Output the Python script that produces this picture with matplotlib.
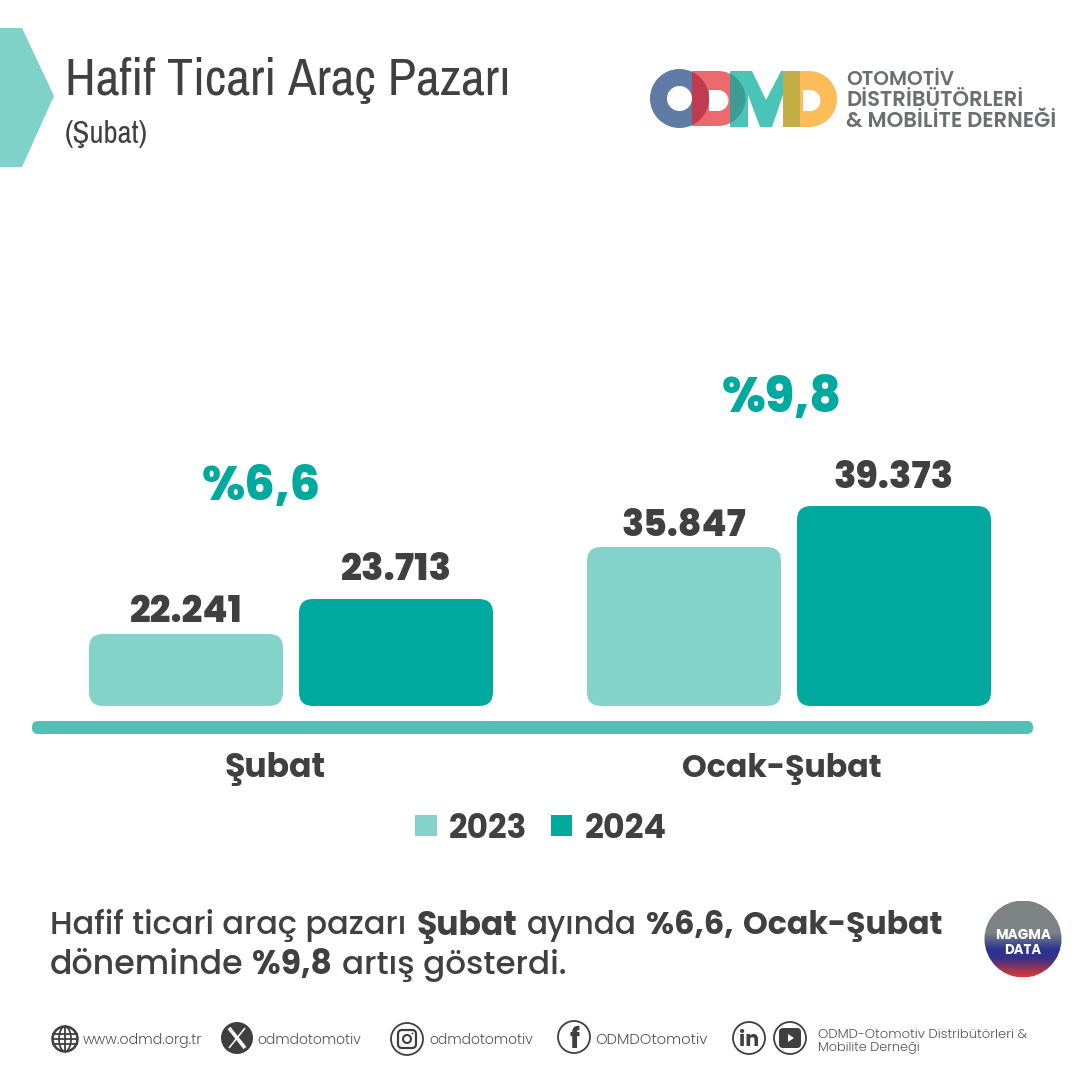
import numpy as np
import matplotlib
matplotlib.use("Agg")
import matplotlib.pyplot as plt
from matplotlib.patches import Circle, FancyBboxPatch, Polygon, Rectangle, Wedge
from matplotlib.colors import LinearSegmentedColormap

categories = ["Şubat", "Ocak-Şubat"]
years = ["2023", "2024"]
# the labels say one thing, the bars in the picture are not to scale,
# so drawn heights are read off separately
labels_2023 = ["22.241", "35.847"]
labels_2024 = ["23.713", "39.373"]
heights_2023 = [72, 159]
heights_2024 = [107, 200]
changes = ["%6,6", "%9,8"]

LIGHT = "#84d3cb"
DARK = "#00a99d"
TEXT = "#404040"
GREY = "#6d6e71"
SANS = ["Poppins", "DejaVu Sans"]
NARROW = ["Archivo Narrow", "Roboto Condensed", "DejaVu Sans"]

fig = plt.figure(figsize=(10.8, 10.8), dpi=100, facecolor="white")

# overlay in pixel coordinates for header, logo and footer
bg = fig.add_axes([0, 0, 1, 1])
bg.set_xlim(0, 1080)
bg.set_ylim(1080, 0)
bg.axis("off")


def fit(t, width):
    w = t.get_window_extent(fig.canvas.get_renderer()).width
    t.set_fontsize(t.get_fontsize() * width / w)
    return t


def put(x, y, s, width=None, size=12, ha="left", color=TEXT, family=SANS, weight="normal"):
    t = bg.text(x, y, s, ha=ha, va="center_baseline", fontsize=size, color=color, family=family, weight=weight)
    if width is not None:
        fit(t, width)
    return t


# header
bg.add_patch(Polygon([(0, 28), (22, 28), (54, 96), (22, 167), (0, 167)], fc="#7fd2ca", ec="none"))
put(65, 76, "Hafif Ticari Araç Pazarı", width=446, size=40, family=NARROW)
put(65, 132, "(Şubat)", width=83, size=20, family=NARROW)

# logo
bg.add_patch(Wedge((679.5, 98.5), 29.5, 0, 360, width=17, fc="#5f7ba6", ec="none"))
bg.add_patch(Rectangle((692, 71), 26, 55, fc="#ec6a6e", ec="none"))
bg.add_patch(Wedge((718, 98.5), 27.5, -90, 90, fc="#ec6a6e", ec="none"))
over = Wedge((679.5, 98.5), 29.5, 0, 360, width=17, fc="#c23a50", ec="none")
bg.add_patch(over)
over.set_clip_path(Rectangle((692, 60), 30, 80, transform=bg.transData))
bg.add_patch(Rectangle((709, 90), 9, 21, fc="white", ec="none"))
bg.add_patch(Wedge((718, 100.5), 10.5, -90, 90, fc="white", ec="none"))
bg.add_patch(Polygon([(730, 71), (752, 71), (766, 100), (781, 71), (800, 71), (800, 127), (783, 127), (783, 95),
                      (772, 127), (760, 127), (748, 95), (748, 127), (730, 127)], fc="#4bc4b8", ec="none"))
over2 = Wedge((718, 98.5), 27.5, -90, 90, fc="#3d9d95", ec="none")
bg.add_patch(over2)
over2.set_clip_path(Rectangle((730, 60), 30, 80, transform=bg.transData))
bg.add_patch(Rectangle((783, 71), 17, 56, fc="#c4ae45", ec="none"))
bg.add_patch(Rectangle((800, 71), 9, 56, fc="#fbbd5a", ec="none"))
bg.add_patch(Wedge((809, 99), 28, -90, 90, fc="#fbbd5a", ec="none"))
bg.add_patch(Rectangle((803, 90), 8, 21, fc="white", ec="none"))
bg.add_patch(Wedge((810, 100.5), 10.5, -90, 90, fc="white", ec="none"))
put(846, 78, "OTOMOTİV", width=108, size=13, color=GREY, weight=600)
put(846, 98, "DİSTRİBÜTÖRLERİ", width=177, size=13, color=GREY, weight=600)
put(846, 119, "& MOBİLİTE DERNEĞİ", width=210, size=13, color=GREY, weight=600)

# chart, pixel box x 32..1033, baseline y 706, 400 px tall
ax = fig.add_axes([32 / 1080, 1 - 706 / 1080, 1001 / 1080, 400 / 1080])
ax.patch.set_alpha(0)
GROUP = 498
x = np.arange(len(categories))
ax.set_xlim((32 - 291) / GROUP, (1033 - 291) / GROUP)
ax.set_ylim(0, 400)
for s in ax.spines.values():
    s.set_visible(False)
ax.set_yticks([])
bar_w = 194 / GROUP
off = 105 / GROUP
bars_a = ax.bar(x - off, heights_2023, bar_w, color=LIGHT)
bars_b = ax.bar(x + off, heights_2024, bar_w, color=DARK)
ax.set_xticks(x + np.array([-16, -7]) / GROUP)
ax.set_xticklabels(categories, family=SANS, fontsize=21, fontweight="bold", color=TEXT)
ax.tick_params(axis="x", length=0, pad=45.5)
for lab, w in zip(ax.get_xticklabels(), [101, 200]):
    lab.set_va("center")
    fit(lab, w)


def round_bars_px(bars, color):
    # rounded corners need equal units, so go through display pixels
    for b in bars:
        b.set_visible(False)
        (x0, y0), (x1, y1) = ax.transData.transform([(b.get_x(), 0), (b.get_x() + b.get_width(), b.get_height())])
        r = 14
        ax.add_patch(FancyBboxPatch((x0 + r, y0 + r), x1 - x0 - 2 * r, y1 - y0 - 2 * r,
                                    boxstyle="round,pad=%d,rounding_size=%d" % (r, r), fc=color, ec="none", transform=None))


round_bars_px(bars_a, LIGHT)
round_bars_px(bars_b, DARK)

label_w_a = [113, 125]
label_w_b = [111, 120]
change_w = [119, 120]
change_dx = [-30, -7]
change_dy = [110, 106]
for i in range(len(categories)):
    t = ax.annotate(labels_2023[i], (x[i] - off, heights_2023[i]), xytext=(0, 20 * 0.72), textcoords="offset points",
                    ha="center", va="center", family=SANS, fontsize=24, fontweight=800, color=TEXT)
    fit(t, label_w_a[i])
    t = ax.annotate(labels_2024[i], (x[i] + off, heights_2024[i]), xytext=(0, 27 * 0.72), textcoords="offset points",
                    ha="center", va="center", family=SANS, fontsize=24, fontweight=800, color=TEXT)
    fit(t, label_w_b[i])
    top = max(heights_2023[i], heights_2024[i])
    t = ax.annotate(changes[i], (x[i], top), xytext=(change_dx[i] * 0.72, change_dy[i] * 0.72), textcoords="offset points",
                    ha="center", va="center", family=SANS, fontsize=32, fontweight=800, color=DARK)
    fit(t, change_w[i])

# thick axis line under the bars
bg.add_patch(FancyBboxPatch((38, 727), 989, 1, boxstyle="round,pad=6,rounding_size=6", fc="#52c0b5", ec="none"))

# legend
bg.add_patch(Rectangle((415, 815), 22, 21, fc=LIGHT, ec="none"))
bg.add_patch(Rectangle((551, 815), 21, 21, fc=DARK, ec="none"))
put(449, 825, years[0], width=78, size=22, weight="bold")
put(585, 825, years[1], width=82, size=22, weight="bold")

# text below the chart
for run_x, run_y, run_w, run, w in [
    (50, 922, 357, "Hafif ticari araç pazarı", 500),
    (417, 922, 101, "Şubat", "bold"),
    (527, 922, 110, "ayında", 500),
    (646, 922, 88, "%6,6,", "bold"),
    (743, 922, 200, "Ocak-Şubat", "bold"),
    (50, 961, 193, "döneminde", 500),
    (252, 961, 80, "%9,8", "bold"),
    (342, 961, 224, "artış gösterdi.", 500),
]:
    put(run_x, run_y, run, width=run_w, size=22, weight=w)

# magma badge
grad = LinearSegmentedColormap.from_list("magma_badge", [(0, "#7e8283"), (0.42, "#7e8283"), (0.64, "#2b3390"),
                                                         (0.76, "#3a3088"), (1, "#dc3a32")])
im = bg.imshow(np.linspace(0, 1, 200).reshape(-1, 1), cmap=grad, extent=(984, 1062, 977, 901), aspect="auto", zorder=2)
im.set_clip_path(Circle((1023, 939), 38.5, transform=bg.transData))
bg.set_xlim(0, 1080)
bg.set_ylim(1080, 0)
t = put(1023, 934, "MAGMA", width=56, size=10, ha="center", color="white", weight="bold")
t.set_zorder(3)
t = put(1023, 949, "DATA", width=37, size=10, ha="center", color="white", weight="bold")
t.set_zorder(3)

# footer icons
ICON = "#3f3f3f"
bg.add_patch(Circle((65, 1039), 12.5, fc="none", ec=ICON, lw=1.8))
for dy in (-5, 0, 5):
    bg.plot([53, 77], [1039 + dy, 1039 + dy], color=ICON, lw=1.3)
bg.plot([65, 65], [1027, 1051], color=ICON, lw=1.3)
th = np.linspace(0, 2 * np.pi, 60)
bg.plot(65 + 6 * np.cos(th), 1039 + 12.5 * np.sin(th), color=ICON, lw=1.3)

bg.add_patch(Circle((237, 1038), 16, fc=ICON, ec="none"))
bg.plot([229, 245], [1028, 1048], color="white", lw=2.6, solid_capstyle="butt")
bg.plot([245, 229], [1028, 1048], color="white", lw=1.1, solid_capstyle="butt")

for cx, cy in [(407, 1039), (574, 1037), (749, 1038), (790, 1038)]:
    bg.add_patch(Circle((cx, cy), 16, fc="none", ec=ICON, lw=1.3))
bg.add_patch(FancyBboxPatch((401, 1033), 12, 12, boxstyle="round,pad=3,rounding_size=4", fc="none", ec=ICON, lw=1.6))
bg.add_patch(Circle((407, 1039), 4, fc="none", ec=ICON, lw=1.5))
bg.add_patch(Circle((412.5, 1033.5), 0.9, fc=ICON, ec="none"))
put(574, 1037, "f", size=20, ha="center", weight="bold", color=ICON)
put(749, 1038, "in", size=15, ha="center", weight="bold", color=ICON)
bg.add_patch(FancyBboxPatch((783, 1032), 14, 12, boxstyle="round,pad=4,rounding_size=4", fc=ICON, ec="none"))
bg.add_patch(Polygon([(788, 1034), (788, 1042), (794, 1038)], fc="white", ec="none"))

put(83, 1038, "www.odmd.org.tr", width=120, size=11, weight=300, color="#555555")
put(257, 1038, "odmdotomotiv", width=105, size=11, weight=300, color="#555555")
put(429, 1039, "odmdotomotiv", width=105, size=11, weight=300, color="#555555")
put(595, 1039, "ODMDOtomotiv", width=113, size=11, weight=300, color="#555555")
put(818, 1033, "ODMD-Otomotiv Distribütörleri &", width=208, size=10, weight=300, color="#555555")
put(818, 1047, "Mobilite Derneği", width=102, size=10, weight=300, color="#555555")

fig.savefig("out.png", dpi=100, facecolor="white")
